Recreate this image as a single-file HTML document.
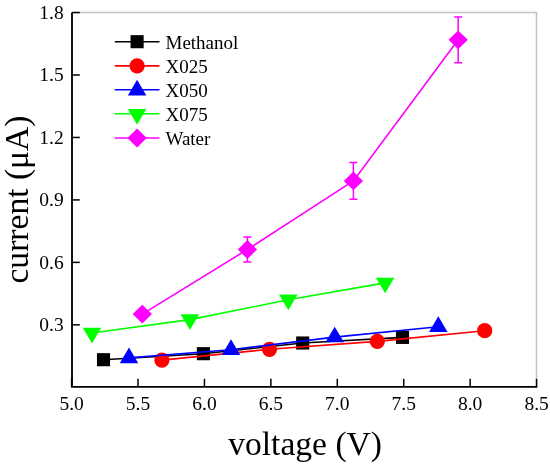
<!DOCTYPE html>
<html><head><meta charset="utf-8"><style>
html,body{margin:0;padding:0;background:#fff;width:550px;height:466px;overflow:hidden}
svg{display:block;will-change:transform}
text{font-family:"Liberation Serif",serif;fill:#000}
.tk{font-size:19.5px}
.lg{font-size:19px}
.ax{font-size:33.6px}
</style></head><body>
<svg width="550" height="466" viewBox="0 0 550 466">
<rect width="550" height="466" fill="#fff"/>
<path d="M72.00,12.40 H536.45 V386.80" fill="none" stroke="#c2c2c2" stroke-width="1.5"/>
<line x1="72.00" y1="12.54" x2="79.80" y2="12.54" stroke="#000" stroke-width="1.5"/>
<text x="63.7" y="18.94" text-anchor="end" class="tk">1.8</text>
<line x1="72.00" y1="75.00" x2="79.80" y2="75.00" stroke="#000" stroke-width="1.5"/>
<text x="63.7" y="81.40" text-anchor="end" class="tk">1.5</text>
<line x1="72.00" y1="137.46" x2="79.80" y2="137.46" stroke="#000" stroke-width="1.5"/>
<text x="63.7" y="143.86" text-anchor="end" class="tk">1.2</text>
<line x1="72.00" y1="199.92" x2="79.80" y2="199.92" stroke="#000" stroke-width="1.5"/>
<text x="63.7" y="206.32" text-anchor="end" class="tk">0.9</text>
<line x1="72.00" y1="262.38" x2="79.80" y2="262.38" stroke="#000" stroke-width="1.5"/>
<text x="63.7" y="268.78" text-anchor="end" class="tk">0.6</text>
<line x1="72.00" y1="324.84" x2="79.80" y2="324.84" stroke="#000" stroke-width="1.5"/>
<text x="63.7" y="331.24" text-anchor="end" class="tk">0.3</text>
<line x1="71.60" y1="386.80" x2="71.60" y2="378.80" stroke="#000" stroke-width="1.5"/>
<text x="71.60" y="410.2" text-anchor="middle" class="tk">5.0</text>
<line x1="138.02" y1="386.80" x2="138.02" y2="378.80" stroke="#000" stroke-width="1.5"/>
<text x="138.02" y="410.2" text-anchor="middle" class="tk">5.5</text>
<line x1="204.45" y1="386.80" x2="204.45" y2="378.80" stroke="#000" stroke-width="1.5"/>
<text x="204.45" y="410.2" text-anchor="middle" class="tk">6.0</text>
<line x1="270.88" y1="386.80" x2="270.88" y2="378.80" stroke="#000" stroke-width="1.5"/>
<text x="270.88" y="410.2" text-anchor="middle" class="tk">6.5</text>
<line x1="337.30" y1="386.80" x2="337.30" y2="378.80" stroke="#000" stroke-width="1.5"/>
<text x="337.30" y="410.2" text-anchor="middle" class="tk">7.0</text>
<line x1="403.73" y1="386.80" x2="403.73" y2="378.80" stroke="#000" stroke-width="1.5"/>
<text x="403.73" y="410.2" text-anchor="middle" class="tk">7.5</text>
<line x1="470.15" y1="386.80" x2="470.15" y2="378.80" stroke="#000" stroke-width="1.5"/>
<text x="470.15" y="410.2" text-anchor="middle" class="tk">8.0</text>
<line x1="536.57" y1="386.80" x2="536.57" y2="378.80" stroke="#000" stroke-width="1.5"/>
<text x="536.57" y="410.2" text-anchor="middle" class="tk">8.5</text>
<path d="M72.00,12.40 V386.80 H537.25" fill="none" stroke="#000" stroke-width="1.85" stroke-linejoin="miter"/>
<polyline points="103.50,359.70 203.40,353.70 302.70,343.00 402.50,337.40" fill="none" stroke="#000000" stroke-width="1.60" stroke-linejoin="round"/>
<rect x="96.95" y="353.15" width="13.10" height="13.10" fill="#000000"/>
<rect x="196.85" y="347.15" width="13.10" height="13.10" fill="#000000"/>
<rect x="296.15" y="336.45" width="13.10" height="13.10" fill="#000000"/>
<rect x="395.95" y="330.85" width="13.10" height="13.10" fill="#000000"/>
<polyline points="161.90,360.10 269.50,349.30 377.30,341.40 484.70,330.70" fill="none" stroke="#ff0000" stroke-width="1.60" stroke-linejoin="round"/>
<circle cx="161.90" cy="360.10" r="7.60" fill="#ff0000"/>
<circle cx="269.50" cy="349.30" r="7.60" fill="#ff0000"/>
<circle cx="377.30" cy="341.40" r="7.60" fill="#ff0000"/>
<circle cx="484.70" cy="330.70" r="7.60" fill="#ff0000"/>
<polyline points="129.00,357.90 231.00,349.70 334.70,337.10 438.30,326.70" fill="none" stroke="#0000ff" stroke-width="1.60" stroke-linejoin="round"/>
<polygon points="129.00,347.43 138.25,363.13 119.75,363.13" fill="#0000ff"/>
<polygon points="231.00,339.23 240.25,354.93 221.75,354.93" fill="#0000ff"/>
<polygon points="334.70,326.63 343.95,342.33 325.45,342.33" fill="#0000ff"/>
<polygon points="438.30,316.23 447.55,331.93 429.05,331.93" fill="#0000ff"/>
<polyline points="92.00,333.00 189.90,319.60 288.30,299.80 385.10,282.90" fill="none" stroke="#00ff00" stroke-width="1.60" stroke-linejoin="round"/>
<polygon points="82.75,327.77 101.25,327.77 92.00,343.47" fill="#00ff00"/>
<polygon points="180.65,314.37 199.15,314.37 189.90,330.07" fill="#00ff00"/>
<polygon points="279.05,294.57 297.55,294.57 288.30,310.27" fill="#00ff00"/>
<polygon points="375.85,277.67 394.35,277.67 385.10,293.37" fill="#00ff00"/>
<polyline points="142.30,314.10 247.40,249.50 353.40,180.90 458.20,39.80" fill="none" stroke="#ff00ff" stroke-width="1.60" stroke-linejoin="round"/>
<path d="M247.40,236.90 V262.10 M243.40,236.90 H251.40 M243.40,262.10 H251.40" stroke="#ff00ff" stroke-width="1.5" fill="none"/>
<path d="M353.40,162.60 V199.20 M349.40,162.60 H357.40 M349.40,199.20 H357.40" stroke="#ff00ff" stroke-width="1.5" fill="none"/>
<path d="M458.20,16.90 V62.70 M454.20,16.90 H462.20 M454.20,62.70 H462.20" stroke="#ff00ff" stroke-width="1.5" fill="none"/>
<polygon points="142.30,304.70 151.95,314.10 142.30,323.50 132.65,314.10" fill="#ff00ff"/>
<polygon points="247.40,240.10 257.05,249.50 247.40,258.90 237.75,249.50" fill="#ff00ff"/>
<polygon points="353.40,171.50 363.05,180.90 353.40,190.30 343.75,180.90" fill="#ff00ff"/>
<polygon points="458.20,30.40 467.85,39.80 458.20,49.20 448.55,39.80" fill="#ff00ff"/>
<line x1="114.80" y1="41.70" x2="159.50" y2="41.70" stroke="#000000" stroke-width="1.6"/>
<rect x="130.55" y="35.15" width="13.10" height="13.10" fill="#000000"/>
<text x="165.50" y="48.50" class="lg">Methanol</text>
<line x1="114.80" y1="65.90" x2="159.50" y2="65.90" stroke="#ff0000" stroke-width="1.6"/>
<circle cx="137.10" cy="65.90" r="7.60" fill="#ff0000"/>
<text x="165.50" y="72.70" class="lg">X025</text>
<line x1="114.80" y1="89.80" x2="159.50" y2="89.80" stroke="#0000ff" stroke-width="1.6"/>
<polygon points="137.10,79.83 146.35,95.53 127.85,95.53" fill="#0000ff"/>
<text x="165.50" y="96.60" class="lg">X050</text>
<line x1="114.80" y1="113.80" x2="159.50" y2="113.80" stroke="#00ff00" stroke-width="1.6"/>
<polygon points="127.85,108.97 146.35,108.97 137.10,124.67" fill="#00ff00"/>
<text x="165.50" y="120.60" class="lg">X075</text>
<line x1="114.80" y1="138.00" x2="159.50" y2="138.00" stroke="#ff00ff" stroke-width="1.6"/>
<polygon points="137.10,128.60 146.75,138.00 137.10,147.40 127.45,138.00" fill="#ff00ff"/>
<text x="165.50" y="144.80" class="lg">Water</text>
<text x="305.1" y="454.6" text-anchor="middle" class="ax">voltage (V)</text>
<text transform="translate(28.3,199.5) rotate(-90)" text-anchor="middle" class="ax">current (&#956;A)</text>
</svg>
</body></html>
